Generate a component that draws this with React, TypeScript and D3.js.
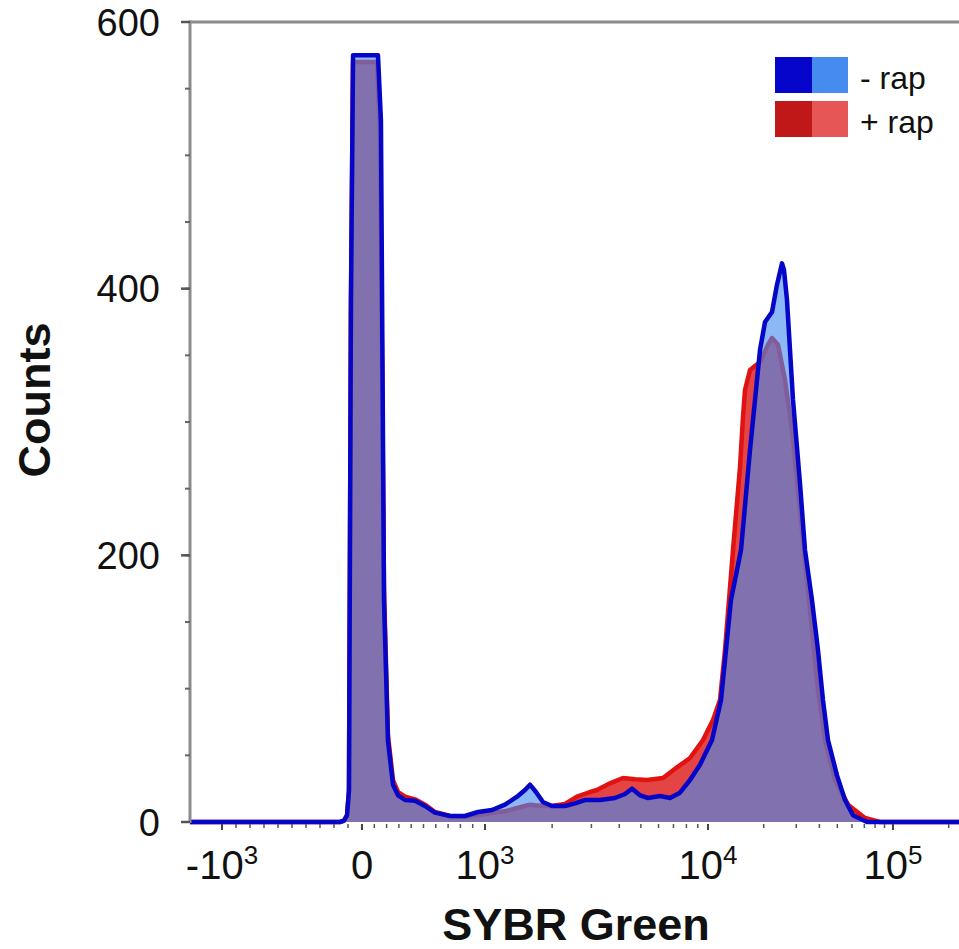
import React, { useRef, useEffect } from "react";
import * as d3 from "d3";

// -rap histogram (SYBR Green intensity, counts)
const minusRapX = [
  -1700, -157, -129, -107, -93, -79, -64, 130, 154, 179, 211, 252, 293, 350, 431, 512, 593, 715, 837, 943,
  1075, 1229, 1392, 1511, 1591, 1693, 1820, 1997, 2284, 2533, 2808, 3279, 3828, 4244, 4563, 4957, 5382,
  6092, 6754, 7487, 8305, 9207, 10510, 11760, 13310, 15080, 16870, 19100, 20330, 22180, 23600, 25120,
  25750, 26730, 28810, 31430, 33440, 36480, 39310, 41830, 44520, 49810, 55030, 60780, 72340, 262144,
];
const minusRapCounts = [
  0, 0, 1, 5, 24, 391, 575, 575, 526, 166, 61, 28, 20, 16.5, 16, 12, 7, 4.5, 4.5, 7.5,
  9, 13, 19, 24, 28, 22.5, 15, 12, 12, 14, 16.5, 16.5, 18, 21, 25, 20, 18,
  19.5, 18, 22, 31.5, 43, 61.5, 91.5, 166.5, 204, 279, 354, 375, 382.5, 403, 419,
  414, 391.5, 316.5, 254, 204, 166.5, 129, 91.5, 61.5, 35, 16.5, 5, 0, 0,
];

// +rap histogram
const plusRapX = [
  -1700, -157, -129, -107, -93, -79, -64, 122, 146, 179, 211, 252, 293, 350, 431, 512, 593, 715, 837, 943,
  1075, 1229, 1392, 1591, 1820, 1997, 2284, 2585, 2957, 3179, 3635, 4157, 4706, 5327, 6283, 7261, 8305,
  9497, 10640, 11610, 12360, 12990, 13650, 14890, 15460, 15850, 16870, 19100, 21100, 22180, 23900, 26080,
  28450, 30650, 33440, 36480, 39310, 42890, 48590, 57120, 70580, 85040, 262144,
];
const plusRapCounts = [
  0, 0, 1, 5, 22.5, 384, 570, 570, 519, 174, 65, 31.5, 22.5, 19, 17, 13, 7.5, 4.5, 4, 5,
  7, 8, 10.5, 13, 12, 12, 13.5, 19, 22.5, 24, 29, 33, 32, 31.5, 33, 41, 48,
  61.5, 76.5, 91.5, 129, 166.5, 204, 266, 304, 324, 339, 345, 358, 363, 358, 331.5,
  294, 249, 196.5, 144, 99, 61.5, 31.5, 13, 3, 0, 0,
];

const xTickValues = [-1000, 0, 1000, 10000, 100000];
const xTickBase = ["-10", "0", "10", "10", "10"];
const xTickExp = ["3", "", "3", "4", "5"];
const xMinorTicks = [
  -900, -800, -700, -600, -500, -400, -300, -200, -100, 100, 200, 300, 400, 500, 600, 700, 800, 900,
  2000, 3000, 4000, 5000, 6000, 7000, 8000, 9000,
  20000, 30000, 40000, 50000, 60000, 70000, 80000, 90000, 200000,
];
const yTickValues = [0, 200, 400, 600];
const legendLabels = ["- rap", "+ rap"];

// biexponential-like display transform: linear around zero, log above 10^3
function biex(v: number) {
  const a = Math.abs(v);
  return a <= 1000 ? v / 1000 : Math.sign(v) * (1 + Math.log10(a / 1000));
}

const FONT = "'Liberation Sans', Arial, Helvetica, sans-serif";

export default function App() {
  const svgRef = useRef<SVGSVGElement>(null);

  useEffect(() => {
    const svg = d3.select(svgRef.current);
    svg.selectAll("*").remove();

    const left = 190, top = 22, bottom = 822;

    const xs = d3.scaleLinear()
      .domain(xTickValues.map(biex))
      .range([222, 362, 485, 708, 893]);
    const x = (v: number) => xs(biex(v));
    const y = d3.scaleLinear().domain([0, 600]).range([bottom, top]);

    svg.append("defs").append("clipPath").attr("id", "plotClip")
      .append("rect").attr("x", left).attr("y", 0).attr("width", 959 - left).attr("height", bottom + 6);

    const plot = svg.append("g").attr("clip-path", "url(#plotClip)");

    const area = d3.area<number>()
      .x((d) => x(d))
      .y0(y(0));
    const line = d3.line<number>().x((d) => x(d));

    // +rap
    plot.append("path")
      .attr("d", area.y1((d, i) => y(plusRapCounts[i]))(plusRapX))
      .attr("fill", "#e44444");
    plot.append("path")
      .attr("d", line.y((d, i) => y(plusRapCounts[i]))(plusRapX))
      .attr("fill", "none")
      .attr("stroke", "#e01212")
      .attr("stroke-width", 4.5)
      .attr("stroke-linejoin", "round");

    // -rap
    plot.append("path")
      .attr("d", area.y1((d, i) => y(minusRapCounts[i]))(minusRapX))
      .attr("fill", "#468cf0")
      .attr("fill-opacity", 0.62);
    plot.append("path")
      .attr("d", line.y((d, i) => y(minusRapCounts[i]))(minusRapX))
      .attr("fill", "none")
      .attr("stroke", "#0606c8")
      .attr("stroke-width", 4.5)
      .attr("stroke-linejoin", "round");

    // frame
    const axisColor = "#8c8c8c";
    svg.append("line").attr("x1", left).attr("x2", 959).attr("y1", y(600)).attr("y2", y(600))
      .attr("stroke", axisColor).attr("stroke-width", 3);
    svg.append("line").attr("x1", left).attr("x2", left).attr("y1", y(600) - 1.5).attr("y2", bottom + 1)
      .attr("stroke", axisColor).attr("stroke-width", 3);

    // y ticks
    svg.selectAll(".yminor")
      .data(d3.range(0, 601, 50))
      .join("line")
      .attr("class", "yminor")
      .attr("x1", left - 5).attr("x2", left)
      .attr("y1", (d) => y(d)).attr("y2", (d) => y(d))
      .attr("stroke", "#666").attr("stroke-width", 2);
    svg.selectAll(".ymajor")
      .data(yTickValues)
      .join("line")
      .attr("class", "ymajor")
      .attr("x1", left - 9).attr("x2", left)
      .attr("y1", (d) => y(d)).attr("y2", (d) => y(d))
      .attr("stroke", "#555").attr("stroke-width", 2.5);
    svg.selectAll(".ylab")
      .data(yTickValues)
      .join("text")
      .attr("class", "ylab")
      .attr("x", 160)
      .attr("y", (d) => y(d))
      .attr("dy", "0.36em")
      .attr("text-anchor", "end")
      .attr("font-family", FONT)
      .attr("font-size", 38)
      .attr("fill", "#111")
      .text((d) => d);

    // x ticks
    svg.selectAll(".xminor")
      .data(xMinorTicks)
      .join("line")
      .attr("class", "xminor")
      .attr("x1", (d) => x(d)).attr("x2", (d) => x(d))
      .attr("y1", bottom + 2).attr("y2", bottom + 6)
      .attr("stroke", "#555").attr("stroke-width", 1.5);
    svg.selectAll(".xmajor")
      .data(xTickValues)
      .join("line")
      .attr("class", "xmajor")
      .attr("x1", (d) => x(d)).attr("x2", (d) => x(d))
      .attr("y1", bottom + 2).attr("y2", bottom + 8)
      .attr("stroke", "#444").attr("stroke-width", 2);

    const xl = svg.selectAll(".xlab")
      .data(xTickValues)
      .join("text")
      .attr("class", "xlab")
      .attr("x", (d) => x(d))
      .attr("y", 879)
      .attr("text-anchor", "middle")
      .attr("font-family", FONT)
      .attr("font-size", 40)
      .attr("fill", "#111");
    xl.append("tspan").text((d, i) => xTickBase[i]);
    xl.append("tspan")
      .attr("dy", -15)
      .attr("font-size", 26)
      .text((d, i) => xTickExp[i]);

    // axis titles
    svg.append("text")
      .attr("x", 576).attr("y", 940)
      .attr("text-anchor", "middle")
      .attr("font-family", FONT)
      .attr("font-weight", "bold")
      .attr("font-size", 45)
      .attr("fill", "#111")
      .text("SYBR Green");
    svg.append("text")
      .attr("transform", "translate(50,400) rotate(-90)")
      .attr("text-anchor", "middle")
      .attr("font-family", FONT)
      .attr("font-weight", "bold")
      .attr("font-size", 45)
      .attr("fill", "#111")
      .text("Counts");

    // legend
    const legendColors = [["#0505cc", "#468cf0"], ["#c01818", "#e65656"]];
    legendLabels.forEach((lab, i) => {
      const gy = 57 + i * 44;
      svg.append("rect").attr("x", 775).attr("y", gy).attr("width", 37).attr("height", 36).attr("fill", legendColors[i][0]);
      svg.append("rect").attr("x", 812).attr("y", gy).attr("width", 36).attr("height", 36).attr("fill", legendColors[i][1]);
      svg.append("text")
        .attr("x", 860).attr("y", gy + 32)
        .attr("font-family", FONT)
        .attr("font-size", 32)
        .attr("fill", "#111")
        .text(lab);
    });
  }, []);

  return (
    <svg
      ref={svgRef}
      width={959}
      height={949}
      style={{ position: "absolute", left: 0, top: 0, background: "#fff" }}
    />
  );
}
